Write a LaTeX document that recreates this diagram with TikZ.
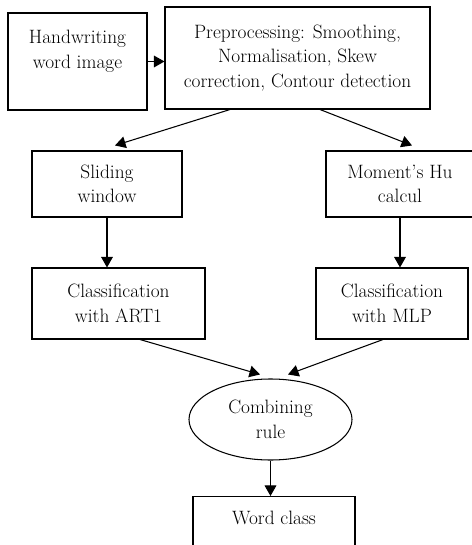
\documentclass[tikz,border=0pt]{standalone}
\usepackage{tikz}
\usetikzlibrary{arrows.meta,positioning,calc,shapes.geometric}

\begin{document}
\begin{tikzpicture}[
    x=0.03cm, y=-0.03cm,
    font=\fontsize{16.5}{21}\selectfont,
    >={Triangle[width=10pt,length=9pt]},
    block/.style={draw, line width=0.9pt, align=center, inner sep=0pt},
    oval/.style={block, ellipse},
    arr/.style={->, line width=0.9pt}
  ]
  \useasboundingbox (0,0) rectangle (471,545);

  % ---------- input and preprocessing ----------------------------------------
  % The input box carries its text high up, hence the empty third line.
  \node[block, minimum width=4.17cm, minimum height=2.91cm] (img) at (77.5,61.5)
        {Handwriting\\word image\\~};
  \node[block, minimum width=7.95cm, minimum height=3.06cm] (prep) at (297.5,58)
        {Preprocessing: Smoothing,\\Normalisation, Skew\\correction, Contour detection};

  % ---------- two feature branches -------------------------------------------
  \node[block, minimum width=4.5cm,  minimum height=1.98cm] (slide) at (107,184) {Sliding\\window};
  \node[block, minimum width=4.44cm, minimum height=1.98cm] (hu)    at (400,184) {Moment's Hu\\calcul};

  \node[block, minimum width=5.19cm, minimum height=2.13cm] (art) at (118.5,303.5) {Classification\\with ART1};
  \node[block, minimum width=4.56cm, minimum height=2.13cm] (mlp) at (392,303.5)   {Classification\\with MLP};

  % ---------- fusion and output ----------------------------------------------
  \node[oval, minimum width=4.89cm, minimum height=2.43cm] (comb) at (270.5,419.5) {Combining\\rule};
  % Output box runs off the bottom edge of the page.
  \node[block, anchor=north, minimum width=4.86cm, text height=24pt, text depth=36pt] (word)
        at (274,496) {Word class};

  % ---------- flow -----------------------------------------------------------
  \draw[arr] (img) -- (img -| prep.west);
  \draw[arr] ($(prep.south)+(-67.5,0)$) -- ($(slide.north)+(8,-5)$);
  \draw[arr] ($(prep.south)+(22.5,0)$)  -- ($(hu.north)+(12,-5)$);
  \draw[arr] (slide) -- (slide |- art.north);
  \draw[arr] (hu) -- (hu |- mlp.north);
  \draw[arr] ($(art.south)+(21.5,0)$) -- ($(comb.north)+(-10.5,-4)$);
  \draw[arr] ($(mlp.south)+(-9,0)$)   -- ($(comb.north)+(17.5,-4)$);
  \draw[arr] (comb) -- (comb |- word.north);

\end{tikzpicture}
\end{document}
